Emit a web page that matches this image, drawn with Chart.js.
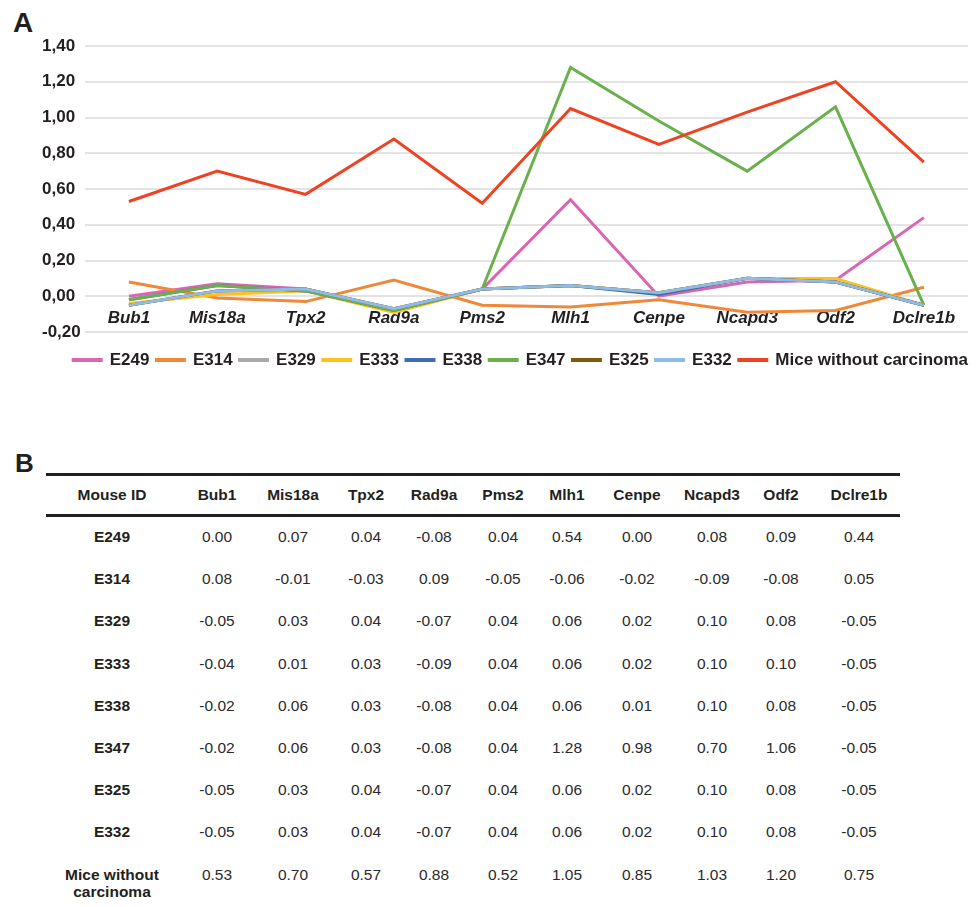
<!DOCTYPE html>
<html>
<head>
<meta charset="utf-8">
<script src="https://cdn.jsdelivr.net/npm/chart.js@4"></script>
<style>
    body { margin: 0; background: #fff; font-family: "Liberation Sans", Arial, sans-serif; color: #231f20; }
    #page { position: relative; width: 977px; height: 907px; overflow: hidden; }
    .panelLabel { position: absolute; font-weight: bold; line-height: 1; }
    #chartBox { position: absolute; left: 0; top: 0; width: 977px; height: 380px; }
    #tbl { position: absolute; left: 46px; top: 473px; width: 854px; display: grid;
        grid-template-columns: 132px 78px 74px 72px 64px 74px 54px 86px 64px 74px 82px; }
    #tbl .th { box-sizing: border-box; height: 44px; border-top: 3px solid #231f20; border-bottom: 3px solid #231f20;
        display: flex; align-items: center; justify-content: center; font-weight: bold; font-size: 15.5px; }
    #tbl .td { box-sizing: border-box; height: 42.2px; padding-top: 11px; line-height: 17px; text-align: center;
        font-size: 15.5px; color: #2a2a2a; }
    #tbl .td.rowName { font-weight: bold; color: #231f20; }
</style>
</head>
<body>
<div id="page">
    <div class="panelLabel" style="left:13px; top:9px; font-size:28px;">A</div>
    <div id="chartBox"><canvas id="chart"></canvas></div>
    <div class="panelLabel" style="left:15px; top:450px; font-size:26px;">B</div>
    <div id="tbl"></div>
</div>
<script>
// genes on the x axis / table columns
const genes = ["Bub1", "Mis18a", "Tpx2", "Rad9a", "Pms2", "Mlh1", "Cenpe", "Ncapd3", "Odf2", "Dclre1b"];
const mouseIds = ["E249", "E314", "E329", "E333", "E338", "E347", "E325", "E332", "Mice without carcinoma"];
const yTicks = [-0.2, 0, 0.2, 0.4, 0.6, 0.8, 1.0, 1.2, 1.4];

const e249 = [0.00, 0.07, 0.04, -0.08, 0.04, 0.54, 0.00, 0.08, 0.09, 0.44];
const e314 = [0.08, -0.01, -0.03, 0.09, -0.05, -0.06, -0.02, -0.09, -0.08, 0.05];
const e329 = [-0.05, 0.03, 0.04, -0.07, 0.04, 0.06, 0.02, 0.10, 0.08, -0.05];
const e333 = [-0.04, 0.01, 0.03, -0.09, 0.04, 0.06, 0.02, 0.10, 0.10, -0.05];
const e338 = [-0.02, 0.06, 0.03, -0.08, 0.04, 0.06, 0.01, 0.10, 0.08, -0.05];
const e347 = [-0.02, 0.06, 0.03, -0.08, 0.04, 1.28, 0.98, 0.70, 1.06, -0.05];
const e325 = [-0.05, 0.03, 0.04, -0.07, 0.04, 0.06, 0.02, 0.10, 0.08, -0.05];
const e332 = [-0.05, 0.03, 0.04, -0.07, 0.04, 0.06, 0.02, 0.10, 0.08, -0.05];
const miceWithoutCarcinoma = [0.53, 0.70, 0.57, 0.88, 0.52, 1.05, 0.85, 1.03, 1.20, 0.75];

const seriesValues = [e249, e314, e329, e333, e338, e347, e325, e332, miceWithoutCarcinoma];
const lineColors = ["#d966b3", "#f0883a", "#a9a9a9", "#ffc21a", "#3e6db5", "#6ab04c", "#7f5a0a", "#8ebce6", "#ee4323"];

const FONT = "'Liberation Sans', Arial, sans-serif";
const TEXT = "#231f20";

function buildDatasets() {
    return mouseIds.map((id, i) => ({
        label: id,
        data: seriesValues[i],
        borderColor: lineColors[i],
        backgroundColor: lineColors[i],
        borderWidth: 3,
        pointRadius: 0,
        tension: 0,
        fill: false,
        //later series on top, like the original
        order: mouseIds.length - i
    }));
}

function drawChart() {
    const ctx = document.getElementById("chart").getContext("2d");
    new Chart(ctx, {
        type: "line",
        data: { labels: genes, datasets: buildDatasets() },
        options: {
            responsive: true,
            maintainAspectRatio: false,
            animation: false,
            layout: { padding: { left: 42, right: 2, top: 46, bottom: 1.5 } },
            plugins: {
                tooltip: { enabled: false },
                legend: {
                    position: "bottom",
                    align: "end",
                    //empty title only used as a gap between plot and legend
                    title: { display: true, text: "", padding: { top: 11.3, bottom: 0 }, font: { size: 1 } },
                    labels: {
                        boxWidth: 28,
                        boxHeight: 1,
                        padding: 7,
                        color: TEXT,
                        font: { family: FONT, size: 17, weight: "bold" },
                        sort: (a, b) => a.datasetIndex - b.datasetIndex
                    }
                }
            },
            scales: {
                x: {
                    type: "category",
                    offset: true,
                    position: { y: 0 },
                    grid: { display: false },
                    border: { display: false },
                    ticks: {
                        autoSkip: false,
                        maxRotation: 0,
                        padding: 4,
                        color: TEXT,
                        font: { family: FONT, size: 17, weight: "bold", style: "italic" }
                    }
                },
                y: {
                    min: -0.2,
                    max: 1.4,
                    afterBuildTicks: scale => { scale.ticks = yTicks.map(v => ({ value: v })); },
                    grid: { color: "#e3e3e3", lineWidth: 2, drawTicks: false },
                    border: { display: false },
                    ticks: {
                        crossAlign: "far",
                        padding: 2,
                        color: TEXT,
                        font: { family: FONT, size: 17, weight: "bold" },
                        callback: v => v.toFixed(2).replace(".", ",")
                    }
                },
                //blank right axis, keeps the plot narrower than the legend row
                yRight: {
                    position: "right",
                    grid: { display: false },
                    border: { display: false },
                    ticks: { display: false },
                    afterFit: scale => { scale.width = 7; }
                }
            }
        }
    });
}

function fillTable() {
    const tbl = document.getElementById("tbl");
    const header = ["Mouse ID"].concat(genes);
    header.forEach(h => {
        const cell = document.createElement("div");
        cell.className = "th";
        cell.textContent = h;
        tbl.appendChild(cell);
    });
    mouseIds.forEach((id, i) => {
        const nameCell = document.createElement("div");
        nameCell.className = "td rowName";
        nameCell.textContent = id;
        tbl.appendChild(nameCell);
        seriesValues[i].forEach(v => {
            const cell = document.createElement("div");
            cell.className = "td";
            cell.textContent = v.toFixed(2);
            tbl.appendChild(cell);
        });
    });
}

drawChart();
fillTable();
</script>
</body>
</html>
